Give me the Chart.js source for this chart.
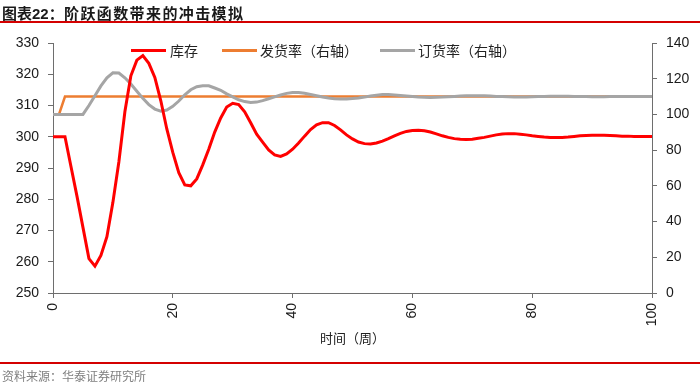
<!DOCTYPE html>
<html><head><meta charset="utf-8">
<script src="https://cdn.jsdelivr.net/npm/chart.js@4.4.1/dist/chart.umd.min.js"></script>
<style>
html,body{margin:0;padding:0;background:#fff;}
#wrap{position:relative;width:700px;height:384px;overflow:hidden;font-family:"Liberation Sans","Noto Sans CJK SC",sans-serif;}
#c{position:absolute;left:0;top:0;}
.t{position:absolute;white-space:nowrap;}
#title1{left:2px;top:2px;font-size:15px;font-weight:bold;color:#1a1a1a;font-family:"Liberation Sans","Noto Sans CJK SC",sans-serif;}
#title2{left:64px;top:2px;font-size:15px;font-weight:bold;color:#1a1a1a;letter-spacing:1.4px;font-family:"Noto Sans CJK SC",sans-serif;}
#rule1{position:absolute;left:0;top:21px;width:700px;height:2px;background:#d40000;}
#rule2{position:absolute;left:0;top:362px;width:700px;height:2px;background:#d40000;}
#foot{left:2px;top:367px;font-size:12px;color:#7f7f7f;font-family:"Noto Sans CJK SC",sans-serif;}
.lg{position:absolute;height:3px;width:35px;}
.lt{position:absolute;top:41px;font-size:14px;color:#222;font-family:"Noto Sans CJK SC",sans-serif;line-height:18px;}
</style></head>
<body><div id="wrap">
<canvas id="c" width="700" height="384"></canvas>
<div class="t" id="title1">图表22：</div>
<div class="t" id="title2">阶跃函数带来的冲击模拟</div>
<div id="rule1"></div>
<div class="lg" style="left:131px;top:49px;background:#ff0000"></div>
<div class="lt" style="left:170px">库存</div>
<div class="lg" style="left:222px;top:49px;background:#ed7d31"></div>
<div class="lt" style="left:260px">发货率（右轴）</div>
<div class="lg" style="left:380px;top:49px;background:#a5a5a5"></div>
<div class="lt" style="left:418px">订货率（右轴）</div>
<div id="rule2"></div>
<div class="t" id="foot">资料来源：华泰证券研究所</div>
</div>
<script>
// weeks 0..100
const weeks = Array.from({length:101},(_,i)=>i);
const inventory = [300,300,300,290.5,281,271,261,258.6,262,268,
279,292,308,319.5,324.5,326,323.5,319,311.5,302.5,
295,288.5,284.6,284.3,286.5,291,296,301.5,306,309.5,
310.7,310.3,308,304.5,300.8,298.3,295.8,294.2,293.7,294.5,
296,298,300.2,302.3,303.8,304.5,304.5,303.6,302.2,300.6,
299.3,298.3,297.8,297.7,298,298.6,299.4,300.3,301.1,301.7,
302,302.1,301.9,301.5,300.9,300.3,299.8,299.4,299.2,299.1,
299.2,299.5,299.8,300.2,300.6,300.9,301,301,300.8,300.6,
300.3,300.1,299.9,299.8,299.8,299.8,299.9,300.1,300.3,300.4,
300.5,300.5,300.5,300.4,300.3,300.2,300.2,300.1,300.1,300.1,300.1];
const shipRate = [100,100,110,110,110,110,110,110,110,110,
110,110,110,110,110,110,110,110,110,110,
110,110,110,110,110,110,110,110,110,110,
110,110,110,110,110,110,110,110,110,110,
110,110,110,110,110,110,110,110,110,110,
110,110,110,110,110,110,110,110,110,110,
110,110,110,110,110,110,110,110,110,110,
110,110,110,110,110,110,110,110,110,110,
110,110,110,110,110,110,110,110,110,110,
110,110,110,110,110,110,110,110,110,110,110];
const orderRate = [100,100,100,100,100,100,105,110.5,116,120.5,
123.3,123.2,120.5,117,113,109,105.5,103,101.8,102.5,
104.5,107.5,111,113.8,115.5,116.1,116,114.8,113.5,111.5,
109.8,108.2,107.2,106.7,106.9,107.7,108.8,109.8,110.9,111.8,
112.3,112.3,111.9,111.2,110.5,109.8,109.2,108.8,108.6,108.7,
108.9,109.2,109.7,110.3,110.8,111.1,111.1,110.9,110.6,110.3,
110,109.7,109.6,109.5,109.6,109.7,109.9,110.1,110.3,110.4,
110.5,110.5,110.4,110.3,110.1,110,109.9,109.8,109.8,109.8,
109.9,110,110.1,110.2,110.2,110.2,110.2,110.1,110,110,
109.9,109.9,109.9,110,110,110,110.1,110.1,110.1,110,110];
const xTicks = [0,20,40,60,80,100];
const leftTicks = [250,260,270,280,290,300,310,320,330];
const rightTicks = [0,20,40,60,80,100,120,140];
const seriesNames = ['库存','发货率（右轴）','订货率（右轴）'];
const xTitle = '时间（周）';

const pts = arr => weeks.map((w,i)=>({x:w,y:arr[i]}));
const axisColor = '#6e6e6e';
const tickFont = {family:'"Liberation Sans", Arial, sans-serif', size:14};

new Chart(document.getElementById('c'), {
  type:'line',
  data:{datasets:[
    {label:seriesNames[0], data:pts(inventory), yAxisID:'y', borderColor:'#ff0000', borderWidth:3, pointRadius:0, tension:0, order:0},
    {label:seriesNames[2], data:pts(orderRate), yAxisID:'y1', borderColor:'#a5a5a5', borderWidth:3, pointRadius:0, tension:0, order:1},
    {label:seriesNames[1], data:pts(shipRate), yAxisID:'y1', borderColor:'#ed7d31', borderWidth:2.5, pointRadius:0, tension:0, order:2}
  ]},
  options:{
    responsive:false, animation:false,
    layout:{padding:{top:43,bottom:34,left:0,right:0}},
    plugins:{legend:{display:false}, tooltip:{enabled:false}},
    scales:{
      x:{type:'linear', min:0, max:100,
        afterBuildTicks: s => { s.ticks = xTicks.map(v=>({value:v})); },
        afterFit: s => { s.height = 57; },
        ticks:{font:tickFont, color:'#1a1a1a', minRotation:90, maxRotation:90, padding:5},
        grid:{display:true, drawOnChartArea:false, drawTicks:true, tickLength:5, color:axisColor},
        border:{display:true, color:axisColor, width:1},
        title:{display:true, text:xTitle, font:{family:'"Noto Sans CJK SC", sans-serif', size:13}, color:'#222', padding:{top:0,bottom:4}}
      },
      y:{position:'left', min:250, max:330,
        afterBuildTicks: s => { s.ticks = leftTicks.map(v=>({value:v})); },
        afterFit: s => { s.width = 53; },
        ticks:{font:tickFont, color:'#1a1a1a', padding:9},
        grid:{display:true, drawOnChartArea:false, drawTicks:true, tickLength:5, color:axisColor},
        border:{display:true, color:axisColor, width:1}
      },
      y1:{position:'right', min:0, max:140,
        afterBuildTicks: s => { s.ticks = rightTicks.map(v=>({value:v})); },
        afterFit: s => { s.width = 48; },
        ticks:{font:tickFont, color:'#1a1a1a', padding:9},
        grid:{display:true, drawOnChartArea:false, drawTicks:true, tickLength:5, color:axisColor},
        border:{display:true, color:axisColor, width:1}
      }
    }
  }
});
</script>
</body></html>
